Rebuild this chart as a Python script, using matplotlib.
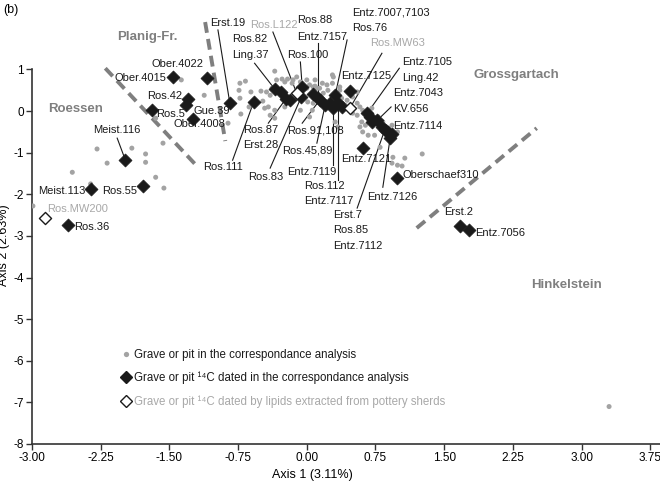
import matplotlib
matplotlib.use("Agg")
import matplotlib.pyplot as plt
from matplotlib.lines import Line2D
import numpy as np

plt.rcParams['font.family'] = ['Liberation Sans', 'DejaVu Sans']

# --- graves / pits in the correspondence analysis (axis 1, axis 2) ---
ca_x = [-2.29, -1.91, -1.76, -2.18, -1.76, -2.56, -1.65, -2.36, -1.56, -2.99,
        -1.57, -1.37, -1.12, -1.65, -0.86,
        -0.73, -0.67, -0.74, -0.73, -0.72, -0.63, -0.61, -0.50, -0.48, -0.42,
        -0.40, -0.40,
        -0.35, -0.33, -0.27, -0.24, -0.21, -0.16, -0.11, -0.07, 0.00, 0.00,
        0.07, -0.38, -0.44, -0.24, -0.07, 0.01, 0.07, -0.24, -0.46, -0.15,
        0.03, 0.09, 0.11, 0.17, 0.18, 0.23, 0.29, 0.28, 0.36, 0.34,
        0.06, 0.03, -0.07, -0.35, -0.35, 0.31, 0.34,
        0.28, 0.09, 0.14, 0.22, 0.38, 0.42, 0.44, 0.50, 0.55, 0.55,
        0.58, 0.61, 0.55, 0.50, 0.71, 0.78, 0.60, 0.64, 0.58, 0.61,
        0.67, 0.74, 0.83, 0.74, 0.87, 0.93, 0.99, 0.93, 0.80, 0.94,
        0.93, 0.99, 1.04, 1.07, 1.26, 0.29, 0.36,
        3.30]
ca_y = [-0.91, -0.89, -1.03, -1.25, -1.23, -1.47, -1.59, -1.75, -1.85, -2.28,
        -0.77, 0.75, 0.38, -0.17, -0.29,
        0.67, 0.72, 0.50, 0.31, -0.07, 0.10, 0.46, 0.48, 0.24, 0.10,
        0.38, -0.10,
        0.96, 0.75, 0.77, 0.70, 0.77, 0.67, 0.82, 0.70, 0.75, 0.55,
        0.58, 0.55, 0.46, 0.38, 0.31, 0.22, 0.19, 0.10, 0.07, 0.75,
        0.63, 0.75, 0.55, 0.67, 0.43, 0.50, 0.82, 0.67, 0.58, 0.34,
        0.02, -0.14, 0.02, 0.02, -0.17, -0.26, -0.38,
        0.87, 0.60, 0.55, 0.63, 0.31, 0.14, 0.26, 0.34, 0.19, 0.46,
        0.10, 0.02, -0.10, -0.05, 0.07, -0.14, -0.26, -0.34, -0.38, -0.50,
        -0.58, -0.58, -0.26, -0.26, -0.38, -0.34, -0.50, -0.63, -0.87, -1.11,
        -1.25, -1.30, -1.32, -1.13, -1.03, 0.02, 0.50,
        -7.10]

# --- graves / pits with 14C dates ---
dated_names = ["Ober.4015", "Ober.4022", "Ros.42", "Gue.39", "Ros.5", "Ober.4008",
               "Erst.19", "Ros.111", "Meist.116", "Meist.113", "Ros.55", "Ros.36",
               "Oberschaef310", "Erst.2", "Entz.7056", "Entz.7121", "Entz.7125",
               "Ling.37", "Ros.82", "Ros.87", "Erst.28", "Ros.100", "Ros.83",
               "Ros.88", "Entz.7157", "Ros.91,108", "Ros.45,89", "Entz.7007,7103",
               "Entz.7119", "Ros.76", "Ros.112", "Entz.7117", "Entz.7105", "Ling.42",
               "Entz.7043", "KV.656", "Entz.7114", "Erst.7", "Ros.85", "Entz.7112",
               "Entz.7126"]
dated_x = [-1.46, -1.09, -1.30, -1.32, -1.69, -1.24,
           -0.84, -0.58, -1.98, -2.36, -1.79, -2.61,
           0.98, 1.67, 1.77, 0.61, 0.47,
           -0.35, -0.28, -0.23, -0.18, -0.05, -0.06,
           0.07, 0.12, 0.14, 0.20, 0.25,
           0.29, 0.31, 0.34, 0.38, 0.66, 0.69,
           0.71, 0.77, 0.82, 0.85, 0.89, 0.93,
           0.91]
dated_y = [0.82, 0.79, 0.29, 0.14, 0.02, -0.19,
           0.19, 0.22, -1.18, -1.88, -1.80, -2.74,
           -1.61, -2.76, -2.86, -0.89, 0.48,
           0.53, 0.46, 0.29, 0.26, 0.58, 0.34,
           0.41, 0.31, 0.26, 0.14, 0.19,
           0.07, 0.38, 0.19, 0.10, -0.05, -0.14,
           -0.26, -0.22, -0.38, -0.46, -0.50, -0.55,
           -0.65]

# --- graves / pits dated by lipids from pottery sherds ---
lipid_names = ["Ros.L122", "Ros.MW63", "Ros.MW200"]
lipid_x = [-0.11, 0.47, -2.86]
lipid_y = [0.43, 0.07, -2.57]

# --- cultural groups ---
group_names = ["Planig-Fr.", "Roessen", "Grossgartach", "Hinkelstein"]
group_x = [-1.74, -2.52, 2.29, 2.84]
group_y = [1.78, 0.05, 0.87, -4.18]

# group boundaries (x0, y0, x1, y1)
bounds = [(-2.20, 1.03, -1.20, -1.32),
          (-1.11, 2.14, -0.89, -0.72),
          (1.20, -2.81, 2.51, -0.41)]

xticks = [-3.00, -2.25, -1.50, -0.75, 0.00, 0.75, 1.50, 2.25, 3.00, 3.75]
yticks = [-8, -7, -6, -5, -4, -3, -2, -1, 0, 1]

# label placement: name -> (x, y, ha, leader start or None)
label_pos = {
    "Ober.4015": (-1.53, 0.79, "right", None),
    "Ober.4022": (-1.13, 1.13, "right", None),
    "Ros.42": (-1.36, 0.36, "right", None),
    "Ros.5": (-1.64, -0.07, "left", None),
    "Gue.39": (-1.24, 0.00, "left", None),
    "Ober.4008": (-1.46, -0.31, "left", None),
    "Ros.111": (-1.13, -1.35, "left", (-0.81, -1.18)),
    "Erst.19": (-1.06, 2.12, "left", (-0.97, 1.95)),
    "Meist.116": (-2.07, -0.45, "center", (-2.07, -0.65)),
    "Meist.113": (-2.42, -1.92, "right", None),
    "Ros.55": (-1.85, -1.92, "right", None),
    "Ros.36": (-2.54, -2.79, "left", None),
    "Ros.L122": (-0.62, 2.07, "left", (-0.37, 1.90)),
    "Ros.88": (-0.11, 2.19, "left", None),
    "Entz.7157": (-0.11, 1.78, "left", (0.12, 1.64)),
    "Ros.100": (-0.21, 1.35, "left", (-0.07, 1.18)),
    "Ros.82": (-0.81, 1.73, "left", None),
    "Ling.37": (-0.81, 1.35, "left", (-0.57, 1.15)),
    "Entz.7007,7103": (0.49, 2.36, "left", None),
    "Ros.76": (0.49, 2.00, "left", (0.44, 1.71)),
    "Ros.MW63": (0.69, 1.63, "left", (0.82, 1.39)),
    "Entz.7125": (0.38, 0.84, "left", None),
    "Entz.7105": (1.04, 1.18, "left", (1.01, 1.03)),
    "Ling.42": (1.04, 0.79, "left", None),
    "Entz.7043": (0.94, 0.43, "left", None),
    "KV.656": (0.94, 0.05, "left", (0.92, 0.10)),
    "Entz.7114": (0.94, -0.36, "left", None),
    "Ros.87": (-0.69, -0.46, "left", (-0.42, -0.29)),
    "Erst.28": (-0.69, -0.82, "left", None),
    "Ros.83": (-0.64, -1.59, "left", (-0.40, -1.37)),
    "Ros.91,108": (-0.21, -0.46, "left", (-0.05, -0.29)),
    "Ros.45,89": (-0.27, -0.94, "left", (0.11, -0.77)),
    "Entz.7119": (-0.22, -1.47, "left", (0.29, -1.30)),
    "Ros.112": (-0.03, -1.80, "left", (0.34, -1.66)),
    "Entz.7117": (-0.03, -2.16, "left", None),
    "Entz.7121": (0.38, -1.15, "left", None),
    "Entz.7126": (0.66, -2.07, "left", (0.83, -1.83)),
    "Erst.7": (0.29, -2.50, "left", (0.55, -2.33)),
    "Ros.85": (0.29, -2.86, "left", None),
    "Entz.7112": (0.29, -3.25, "left", None),
    "Oberschaef310": (1.05, -1.54, "left", None),
    "Erst.2": (1.50, -2.43, "left", None),
    "Entz.7056": (1.84, -2.93, "left", None),
    "Ros.MW200": (-2.83, -2.36, "left", None),
}

W, H = 660, 493
fig = plt.figure(figsize=(W / 100, H / 100), dpi=100)
ax = fig.add_axes([32 / W, 49 / H, (W - 32) / W, (H - 49) / H])
ax.set_xlim(-3.0, 3.856)
ax.set_ylim(-8.0, 2.67)

grey_dot = "#a3a3a3"
dark = "#1a1a1a"
light_text = "#a8a8a8"
group_col = "#7f7f7f"

# boundaries between groups
for x0, y0, x1, y1 in bounds:
    ax.plot([x0, x1], [y0, y1], color=group_col, lw=2.8,
            linestyle=(0, (2.8, 1.6)), solid_capstyle="butt",
            dash_capstyle="butt", zorder=1)

# leader lines
all_pts = {n: (x, y) for n, x, y in zip(dated_names, dated_x, dated_y)}
all_pts.update({n: (x, y) for n, x, y in zip(lipid_names, lipid_x, lipid_y)})
for name, (lx, ly, ha, start) in label_pos.items():
    if start is not None:
        px, py = all_pts[name]
        ax.plot([start[0], px], [start[1], py], color=dark, lw=0.8, zorder=2)

ax.scatter(ca_x, ca_y, s=13, color=grey_dot, edgecolors="none", zorder=3)
ax.scatter(dated_x, dated_y, marker="D", s=44, color=dark,
           edgecolors=dark, linewidths=0.5, zorder=4)
ax.scatter(lipid_x, lipid_y, marker="D", s=38, facecolor="white",
           edgecolors=dark, linewidths=1.0, zorder=5)

for name, (lx, ly, ha, start) in label_pos.items():
    col = light_text if name in lipid_names else dark
    ax.text(lx, ly, name, ha=ha, va="center", fontsize=8, color=col, zorder=6)

for name, gx, gy in zip(group_names, group_x, group_y):
    ax.text(gx, gy, name, ha="center", va="center", fontsize=9.5,
            fontweight="bold", color=group_col)

# axes styling
for side in ("top", "right"):
    ax.spines[side].set_visible(False)
ax.spines["left"].set_bounds(-8, 1)
ax.spines["left"].set_color("#333333")
ax.spines["bottom"].set_color("#333333")
ax.spines["left"].set_linewidth(1.2)
ax.spines["bottom"].set_linewidth(1.2)
ax.set_xticks(xticks)
ax.set_xticklabels([f"{v:.2f}" for v in xticks])
ax.set_yticks(yticks)
ax.set_yticklabels([str(v) for v in yticks])
ax.tick_params(axis="both", labelsize=8.5, length=4, width=1.0,
               color="#333333", pad=2)

fig.text(312 / W, (H - 475) / H, "Axis 1 (3.11%)", ha="center", va="center",
         fontsize=9)
fig.text(4 / W, (H - 245) / H, "Axis 2 (2.63%)", ha="center", va="center",
         rotation=90, fontsize=9)
fig.text(3 / W, (H - 10) / H, "(b)", ha="left", va="center", fontsize=9)

handles = [
    Line2D([], [], marker="o", linestyle="none", markersize=3.8,
           markerfacecolor=grey_dot, markeredgecolor="none"),
    Line2D([], [], marker="D", linestyle="none", markersize=6.5,
           markerfacecolor=dark, markeredgecolor=dark),
    Line2D([], [], marker="D", linestyle="none", markersize=6,
           markerfacecolor="white", markeredgecolor=dark, markeredgewidth=1.0),
]
labels = [
    "Grave or pit in the correspondance analysis",
    "Grave or pit \u00b9\u2074C dated in the correspondance analysis",
    "Grave or pit \u00b9\u2074C dated by lipids extracted from pottery sherds",
]
ax.legend(handles, labels, loc="upper left", bbox_to_anchor=(0.143, 0.214),
          frameon=False, fontsize=8.3, handlelength=0.8, handletextpad=0.3,
          labelspacing=0.95, borderpad=0, borderaxespad=0,
          labelcolor=[dark, dark, light_text])

fig.savefig("out.png", dpi=100)
